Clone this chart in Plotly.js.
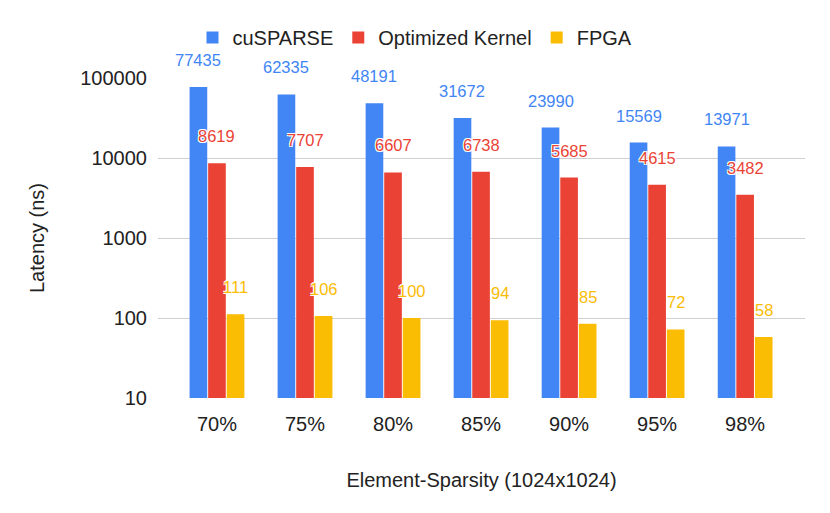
<!DOCTYPE html>
<html>
<head>
<meta charset="utf-8">
<script src="https://cdn.plot.ly/plotly-3.0.1.min.js"></script>
<style>html,body{margin:0;padding:0;background:#fff;}#chart{width:830px;height:513px;}</style>
</head>
<body>
<div id="chart"></div>
<script>
const categories = ["70%", "75%", "80%", "85%", "90%", "95%", "98%"];
const cusparse = [77435, 62335, 48191, 31672, 23990, 15569, 13971];
const optimized = [8619, 7707, 6607, 6738, 5685, 4615, 3482];
const fpga = [111, 106, 100, 94, 85, 72, 58];
const seriesNames = ["cuSPARSE", "Optimized Kernel", "FPGA"];
const seriesColors = ["#4285F4", "#EA4335", "#FBBC04"];
const yTicks = [10, 100, 1000, 10000, 100000];

const allSeries = [cusparse, optimized, fpga];
const bargap = 0.367;
const slot = (1 - bargap) / 3;

const traces = allSeries.map((vals, k) => ({
  type: "bar",
  name: seriesNames[k],
  x: categories,
  y: vals,
  marker: {color: seriesColors[k]},
  hoverinfo: "x+y+name"
}));

const annotations = [];
allSeries.forEach((vals, k) => {
  vals.forEach((v, i) => {
    annotations.push({
      x: i + (k - 1) * slot,
      y: Math.log10(v),
      xref: "x", yref: "y",
      text: String(v),
      showarrow: false,
      xanchor: "center", yanchor: "middle",
      yshift: 27,
      font: {family: "Liberation Sans, Arial, sans-serif", size: 16.5, color: seriesColors[k],
             shadow: "1px 1px 0 #fff, -1px -1px 0 #fff, 1px -1px 0 #fff, -1px 1px 0 #fff"}
    });
  });
});

const layout = {
  width: 830, height: 513,
  margin: {l: 158, r: 25, t: 78, b: 115},
  paper_bgcolor: "#fff", plot_bgcolor: "#fff",
  font: {family: "Liberation Sans, Arial, sans-serif", size: 20, color: "#222"},
  barmode: "group",
  bargap: bargap,
  bargroupgap: 0.05,
  showlegend: true,
  legend: {orientation: "h", xref: "container", yref: "container", x: 0.5, y: 0.927,
           xanchor: "center", yanchor: "middle", font: {size: 20, color: "#222"}, itemwidth: 30},
  xaxis: {
    type: "category",
    range: [-0.67, 6.68],
    showgrid: false, zeroline: false,
    showline: false, ticks: "",
    ticklabelstandoff: 12,
    tickfont: {size: 20, color: "#222"},
    title: {text: "Element-Sparsity (1024x1024)", font: {size: 20, color: "#222"}, standoff: 38}
  },
  yaxis: {
    type: "log",
    range: [1, 5],
    tickvals: yTicks,
    ticktext: yTicks.map(String),
    showgrid: true, gridcolor: "#d0d0d0", gridwidth: 1,
    zeroline: false, showline: false, ticks: "",
    ticklabelstandoff: 10,
    tickfont: {size: 20, color: "#222"},
    title: {text: "Latency (ns)", font: {size: 20, color: "#222"}, standoff: 30},
    automargin: false
  },
  annotations: annotations
};

Plotly.newPlot("chart", traces, layout, {displayModeBar: false, staticPlot: true});
</script>
</body>
</html>
